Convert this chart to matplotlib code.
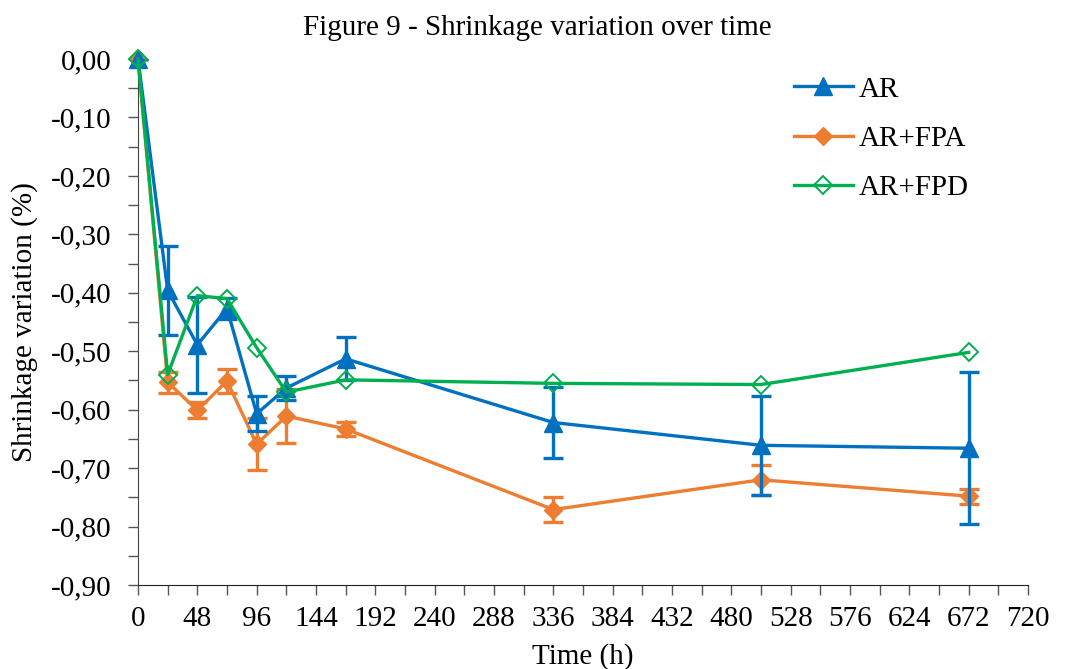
import matplotlib
matplotlib.use("Agg")
import matplotlib.pyplot as plt
from matplotlib.ticker import MultipleLocator, FuncFormatter
from matplotlib.lines import Line2D

plt.rcParams['font.family'] = ['Liberation Serif', 'DejaVu Serif']

time_h = [0, 24, 48, 72, 96, 120, 168, 336, 504, 672]

ar = [0.0, -0.396, -0.489, -0.427, -0.607, -0.563, -0.513, -0.622, -0.661, -0.666]
ar_err = [0.0, 0.076, 0.082, 0.018, 0.030, 0.020, 0.037, 0.060, 0.085, 0.130]

ar_fpa = [0.0, -0.553, -0.601, -0.551, -0.659, -0.611, -0.633, -0.771, -0.720, -0.748]
ar_fpa_err = [0.0, 0.018, 0.014, 0.020, 0.044, 0.046, 0.012, 0.022, 0.026, 0.013]

ar_fpd = [0.0, -0.540, -0.405, -0.410, -0.494, -0.570, -0.549, -0.555, -0.557, -0.502]

title = "Figure 9 - Shrinkage variation over time"
xlabel = "Time (h)"
ylabel = "Shrinkage variation (%)"
labels = ["AR", "AR+FPA", "AR+FPD"]

c_ar = "#0070C0"
c_fpa = "#ED7D31"
c_fpd = "#00B050"
FS = 21

fig = plt.figure(figsize=(10.66, 6.69), dpi=100)
ax = fig.add_axes([138/1066, 1 - 585/669, (1028-138)/1066, (585-59)/669])

e1 = ax.errorbar(time_h, ar, yerr=ar_err, color=c_ar, marker='^', markersize=13,
                 linewidth=2.4, elinewidth=2.4, capsize=7, capthick=2.4, zorder=3)
e2 = ax.errorbar(time_h, ar_fpa, yerr=ar_fpa_err, color=c_fpa, marker='D', markersize=9,
                 linewidth=2.4, elinewidth=2.4, capsize=7, capthick=2.4, zorder=2)
l3, = ax.plot(time_h, ar_fpd, color=c_fpd, marker='D', markersize=9, markerfacecolor='none',
              markeredgewidth=1.4, linewidth=2.4, zorder=4)
for art in [e1.lines[0], e2.lines[0], l3]:
    art.set_clip_on(False)

ax.set_xlim(0, 720)
ax.set_ylim(-0.9, 0.0)
ax.xaxis.set_major_locator(MultipleLocator(48))
ax.xaxis.set_minor_locator(MultipleLocator(24))
ax.yaxis.set_major_locator(MultipleLocator(0.1))
ax.yaxis.set_minor_locator(MultipleLocator(0.05))
ax.yaxis.set_major_formatter(FuncFormatter(lambda v, p: f"{v:.2f}".replace('.', ',').replace('-0,00', '0,00')))

for s in ['top', 'right']:
    ax.spines[s].set_visible(False)
ax.spines['left'].set_color('#444444')
ax.spines['bottom'].set_color('#222222')
ax.tick_params(axis='both', which='both', direction='out', length=7, width=1, colors='#555555',
               labelcolor='black', labelsize=FS)
ax.tick_params(axis='x', pad=8)
ax.tick_params(axis='y', pad=12)
ax.set_xlabel(xlabel, fontsize=FS, labelpad=8)
ax.set_ylabel(ylabel, fontsize=FS, labelpad=9)
fig.text(537/1066, 1 - 28/669, title, ha='center', va='center', fontsize=FS)

handles = [
    Line2D([], [], color=c_ar, marker='^', markersize=13, linewidth=2.4),
    Line2D([], [], color=c_fpa, marker='D', markersize=9, linewidth=2.4),
    Line2D([], [], color=c_fpd, marker='D', markersize=9, markerfacecolor='none',
           markeredgewidth=1.4, linewidth=2.4),
]
ax.legend(handles, labels, loc='upper left', bbox_to_anchor=(768/1066, 1 - 50/669),
          bbox_transform=fig.transFigure, frameon=False, fontsize=FS,
          handlelength=2.0, labelspacing=0.78, handletextpad=0.2)

fig.savefig("out.png", dpi=100)
